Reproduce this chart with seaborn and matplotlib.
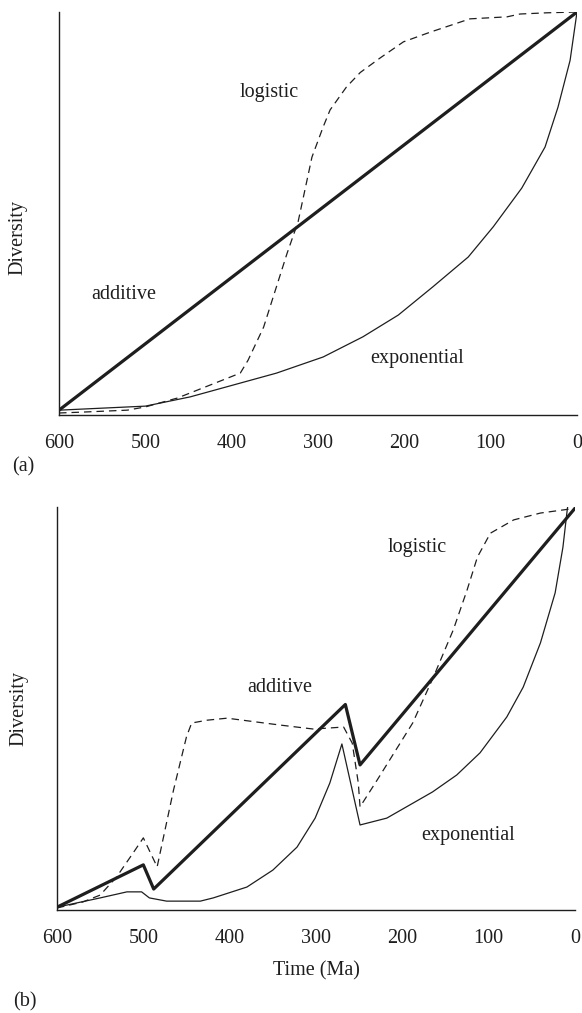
import matplotlib
matplotlib.use("Agg")
import matplotlib.pyplot as plt
import seaborn as sns

# panel (a): time in Ma, diversity in relative units (0-100)
a_add_t = [600, 0]
a_add_d = [1.2, 100]
a_log_t = [600, 575, 521, 500, 463, 390, 381, 363, 336, 323, 307, 294, 286, 267,
           251, 228, 201, 170, 124, 81, 66, 35, 0]
a_log_d = [0.5, 0.7, 1.2, 2, 4.2, 10.4, 13.6, 21.8, 40, 48, 64, 71.5, 75.7, 81.4,
           85, 88.6, 92.6, 95, 98.3, 98.8, 99.5, 99.8, 100]
a_exp_t = [600, 500, 448, 348, 294, 248, 207, 167, 126, 97, 64, 37, 22, 8, 0]
a_exp_d = [1.2, 2.2, 4.5, 10.4, 14.4, 19.4, 24.8, 31.8, 39.2, 46.7, 56.3, 66.5,
           76.4, 88, 100]

# panel (b): same models with mass extinctions
b_add_t = [600, 500, 488, 266, 249, 0]
b_add_d = [0.7, 11.2, 5.2, 51, 36, 99.7]
b_log_t = [600, 570, 550, 531, 512, 500, 484, 465, 450, 444, 426, 403, 342, 303,
           268, 258, 251, 249, 229, 188, 164, 141, 125, 113, 98, 71, 40, 6, 3, 0]
b_log_d = [0.5, 2, 3.7, 8.2, 14.1, 17.9, 10.7, 29.8, 43, 46.4, 47.1, 47.6, 45.9,
           44.9, 45.4, 41.4, 31.5, 25.6, 32.3, 46.4, 57.8, 69.5, 79.4, 87.6, 93.5,
           96.8, 98.5, 99.5, 100.8, 100]
b_exp_t = [600, 550, 519, 502, 493, 473, 434, 419, 380, 350, 322, 301, 284, 270,
           249, 218, 165, 137, 110, 79, 60, 40, 23, 14, 9, 8]
b_exp_d = [0.7, 3, 4.5, 4.5, 3, 2.2, 2.2, 3, 5.7, 9.9, 15.6, 22.8, 31.5, 41.2,
           21.1, 22.8, 29.3, 33.5, 39, 47.9, 55.3, 66.3, 78.7, 90, 99.3, 100.8]

ticks = [600, 500, 400, 300, 200, 100, 0]

INK = "#1e1e1e"
FS = 14.5


def draw_panel(ax, add, log, exp, labels):
    sns.lineplot(x=add[0], y=add[1], ax=ax, color=INK, linewidth=2.3,
                 sort=False, estimator=None)
    sns.lineplot(x=log[0], y=log[1], ax=ax, color=INK, linewidth=0.9,
                 linestyle=(0, (6, 4)), sort=False, estimator=None)
    sns.lineplot(x=exp[0], y=exp[1], ax=ax, color=INK, linewidth=0.9,
                 sort=False, estimator=None)
    ax.set_xlim(600, 0)
    ax.set_ylim(0, 100)
    ax.set_xticks(ticks)
    ax.set_xticklabels([str(t) for t in ticks])
    ax.set_yticks([])
    ax.tick_params(axis="x", direction="out", length=7.5, width=1.0,
                   color=INK, labelsize=FS, labelcolor=INK, pad=6)
    for side in ["top", "right"]:
        ax.spines[side].set_visible(False)
    for side in ["left", "bottom"]:
        ax.spines[side].set_color(INK)
        ax.spines[side].set_linewidth(1.0)
    ax.set_xlabel("")
    ax.set_ylabel("Diversity", fontsize=FS, color=INK)
    for txt, x, y in labels:
        ax.text(x, y, txt, fontsize=FS, color=INK, ha="center", va="center")


sns.set_style("white")
plt.rcParams["font.family"] = ["Liberation Serif", "DejaVu Serif"]

fig = plt.figure(figsize=(5.82, 10.13), dpi=100)
ax1 = fig.add_axes([59 / 582, 598 / 1013, 518 / 582, 403 / 1013])
ax2 = fig.add_axes([57 / 582, 103 / 1013, 518 / 582, 403 / 1013])

draw_panel(ax1, (a_add_t, a_add_d), (a_log_t, a_log_d), (a_exp_t, a_exp_d),
           [("logistic", 357, 80), ("additive", 525, 29.8),
            ("exponential", 185, 14.1)])
draw_panel(ax2, (b_add_t, b_add_d), (b_log_t, b_log_d), (b_exp_t, b_exp_d),
           [("logistic", 183, 90), ("additive", 342, 55.3),
            ("exponential", 124, 18.6)])

ax1.yaxis.set_label_coords(-0.060, 0.44)
ax2.yaxis.set_label_coords(-0.056, 0.5)
ax2.set_xlabel("Time (Ma)", fontsize=FS, color=INK, labelpad=10)

fig.text(12 / 582, 1 - 467 / 1013, "(a)", fontsize=FS, color=INK,
         ha="left", va="center")
fig.text(13 / 582, 1 - 1002 / 1013, "(b)", fontsize=FS, color=INK,
         ha="left", va="center")

fig.savefig("out.png", dpi=100)
